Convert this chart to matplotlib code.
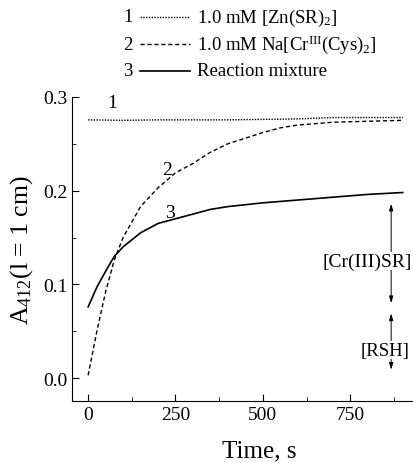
import matplotlib
matplotlib.use('Agg')
import matplotlib.pyplot as plt
from matplotlib.lines import Line2D
from matplotlib.ticker import MultipleLocator, FormatStrFormatter

plt.rcParams['font.family'] = ['Liberation Serif', 'DejaVu Serif']
plt.rcParams['mathtext.fontset'] = 'custom'
plt.rcParams['mathtext.rm'] = 'Liberation Serif'
plt.rcParams['mathtext.it'] = 'Liberation Serif:italic'

# curve 1: Zn(SR)2
t1 = [0, 100, 200, 300, 400, 500, 600, 700, 800, 900]
a1 = [0.2755, 0.275, 0.2755, 0.2755, 0.2755, 0.276, 0.2765, 0.278, 0.278, 0.278]
# curve 2: Na[Cr(Cys)2]
t2 = [0, 25, 50, 75, 100, 150, 200, 250, 300, 350, 400, 450, 500, 550, 600, 700, 800, 900]
a2 = [0.003, 0.050, 0.092, 0.126, 0.150, 0.183, 0.203, 0.219, 0.229, 0.241, 0.250,
      0.256, 0.262, 0.267, 0.270, 0.273, 0.274, 0.275]
# curve 3: reaction mixture
t3 = [0, 25, 50, 75, 100, 150, 200, 250, 300, 350, 400, 450, 500, 600, 700, 800, 900]
a3 = [0.076, 0.097, 0.114, 0.130, 0.140, 0.155, 0.165, 0.170, 0.175, 0.180, 0.183,
      0.185, 0.187, 0.190, 0.193, 0.196, 0.198]

legend_labels = ['1.0 mM [Zn(SR)$_2$]',
                 r'1.0 mM Na[Cr$^{\mathrm{III}}$(Cys)$_2$]',
                 'Reaction mixture']

fig = plt.figure(figsize=(4.14, 4.64), dpi=100)
ax = fig.add_axes([0.174, 0.1336, 0.824, 0.6554])

ax.plot(t1, a1, color='k', lw=1.0, linestyle=(0, (1, 1)))
ax.plot(t2, a2, color='k', lw=1.0, linestyle=(0, (3, 2)))
ax.plot(t3, a3, color='k', lw=1.2, linestyle='-')

ax.text(69, 0.294, '1', fontsize=14, ha='center', va='center')
ax.text(225, 0.223, '2', fontsize=14, ha='center', va='center')
ax.text(235, 0.177, '3', fontsize=14, ha='center', va='center')

# double arrows on the right
ax.annotate('', xy=(867, 0.189), xytext=(867, 0.077),
            arrowprops=dict(arrowstyle='<|-|>,head_length=0.4,head_width=0.12', lw=0.7, color='k'))
ax.annotate('', xy=(867, 0.072), xytext=(867, 0.006),
            arrowprops=dict(arrowstyle='<|-|>,head_length=0.4,head_width=0.12', lw=0.7, color='k'))
ax.text(798, 0.125, '[Cr(III)SR]', fontsize=14, ha='center', va='center',
        bbox=dict(facecolor='white', edgecolor='none', pad=0.5), zorder=5)
ax.text(851, 0.030, '[RSH]', fontsize=13.5, ha='center', va='center',
        bbox=dict(facecolor='white', edgecolor='none', pad=0.5), zorder=5)

ax.set_xlim(-46, 930)
ax.set_ylim(-0.0244, 0.3)
ax.spines['top'].set_visible(False)
ax.spines['right'].set_visible(False)
ax.xaxis.set_major_locator(MultipleLocator(250))
ax.xaxis.set_minor_locator(MultipleLocator(125))
ax.yaxis.set_major_locator(MultipleLocator(0.1))
ax.yaxis.set_minor_locator(MultipleLocator(0.05))
ax.yaxis.set_major_formatter(FormatStrFormatter('%.1f'))
ax.tick_params(which='both', direction='in', labelsize=14)
ax.tick_params(which='major', length=5)
ax.tick_params(which='minor', length=3)

ax.set_xlabel('Time, s', fontsize=18)
ax.xaxis.set_label_coords(0.55, -0.125)
ax.set_ylabel('A$_{412}$(l = 1 cm)', fontsize=18.5)
ax.yaxis.set_label_coords(-0.11, 0.5)

# legend drawn above the axes
styles = [dict(lw=1.0, linestyle=(0, (1, 1))),
          dict(lw=1.0, linestyle=(0, (3, 2))),
          dict(lw=1.2, linestyle='-')]
rows = [1 - 18 / 464, 1 - 45 / 464, 1 - 72 / 464]
for i, (lab, st, yy) in enumerate(zip(legend_labels, styles, rows)):
    fig.text(128 / 414, yy, str(i + 1), fontsize=13.5, ha='center', va='center')
    fig.add_artist(Line2D([140 / 414, 190 / 414], [yy, yy], color='k', **st))
    fig.text(197 / 414, yy, lab, fontsize=13.5, ha='left', va='center')

fig.savefig('out.png', dpi=100)
